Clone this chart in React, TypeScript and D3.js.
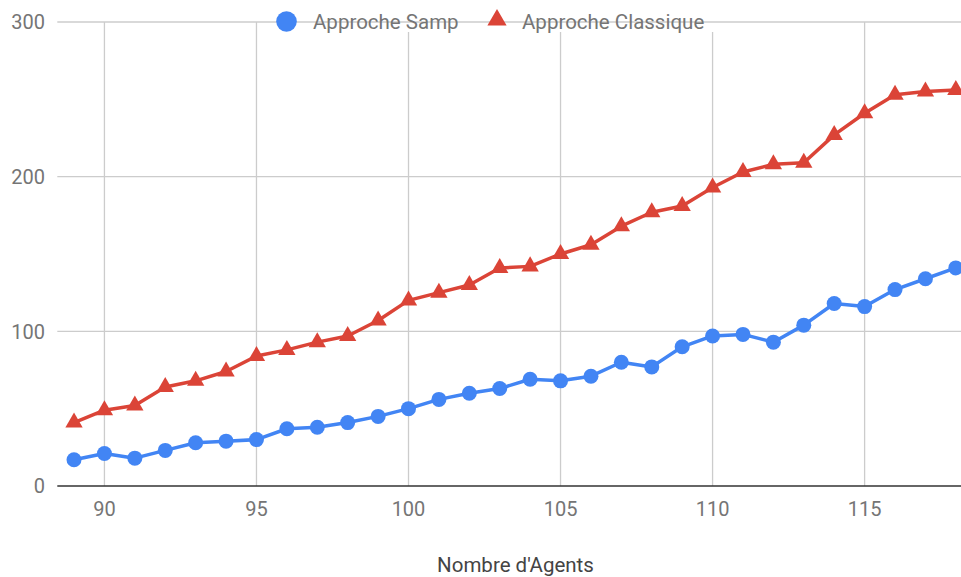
import React from "react";
import * as d3 from "d3";

const agents = [89,90,91,92,93,94,95,96,97,98,99,100,101,102,103,104,105,106,107,108,109,110,111,112,113,114,115,116,117,118];
const sampValues = [17,21,18,23,28,29,30,37,38,41,45,50,56,60,63,69,68,71,80,77,90,97,98,93,104,118,116,127,134,141];
const classiqueValues = [41,49,52,64,68,74,84,88,93,97,107,120,125,130,141,142,150,156,168,177,181,193,203,208,209,227,241,253,255,256];
const xTicks = [90,95,100,105,110,115];
const yTicks = [0,100,200,300];
const seriesNames = ["Approche Samp", "Approche Classique"];
const xTitle = "Nombre d'Agents";

const W = 961, H = 577;
const BLUE = "#4285F4", RED = "#DB4437";
const FONT = "Roboto, sans-serif";

export default function App() {
  const x = d3.scaleLinear().domain([88.45, 118.17]).range([57.3, 961]);
  const y = d3.scaleLinear().domain([0, 300]).range([486, 22]);
  const line = d3.line<number>().x((_, i) => x(agents[i])).y((v) => y(v));
  const tri = d3.symbol().type(d3.symbolTriangle).size(130)();
  const triLegend = d3.symbol().type(d3.symbolTriangle).size(160)();

  return (
    <svg width={W} height={H} style={{ position: "absolute", left: 0, top: 0, background: "#fff" }}>
      <g>
        {xTicks.map((t) => (
          <line key={"vx" + t} x1={x(t)} x2={x(t)} y1={y(300)} y2={y(0)} stroke="#cccccc" strokeWidth={1.3} />
        ))}
        <rect x={275} y={8} width={440} height={24} fill="#fff" />
        {yTicks.filter((t) => t > 0).map((t) => (
          <line key={"hy" + t} x1={57.3} x2={961} y1={y(t)} y2={y(t)} stroke="#cccccc" strokeWidth={1.3} />
        ))}
        <line x1={57.3} x2={961} y1={y(0)} y2={y(0)} stroke="#333333" strokeWidth={1.5} />
      </g>
      <g fontFamily={FONT} fontSize={20} fill="#757575">
        {yTicks.map((t) => (
          <text key={"yl" + t} x={45} y={y(t)} dy="0.36em" textAnchor="end">{t}</text>
        ))}
        {xTicks.map((t) => (
          <text key={"xl" + t} x={x(t)} y={516} textAnchor="middle">{t}</text>
        ))}
      </g>
      <text x={515.5} y={572} textAnchor="middle" fontFamily={FONT} fontSize={20.5} fill="#444">{xTitle}</text>
      <path d={line(classiqueValues) || ""} fill="none" stroke={RED} strokeWidth={3.5} strokeLinejoin="round" />
      {classiqueValues.map((v, i) => (
        <path key={"r" + i} d={tri || ""} transform={`translate(${x(agents[i])},${y(v)})`} fill={RED} />
      ))}
      <path d={line(sampValues) || ""} fill="none" stroke={BLUE} strokeWidth={3.5} strokeLinejoin="round" />
      {sampValues.map((v, i) => (
        <circle key={"b" + i} cx={x(agents[i])} cy={y(v)} r={7.5} fill={BLUE} />
      ))}
      <g fontFamily={FONT} fontSize={20.5} fill="#757575">
        <circle cx={286.5} cy={21.5} r={10.3} fill={BLUE} />
        <text x={313} y={21.5} dy="0.36em">{seriesNames[0]}</text>
        <path d={triLegend || ""} transform="translate(497,20)" fill={RED} />
        <text x={522} y={21.5} dy="0.36em">{seriesNames[1]}</text>
      </g>
    </svg>
  );
}
